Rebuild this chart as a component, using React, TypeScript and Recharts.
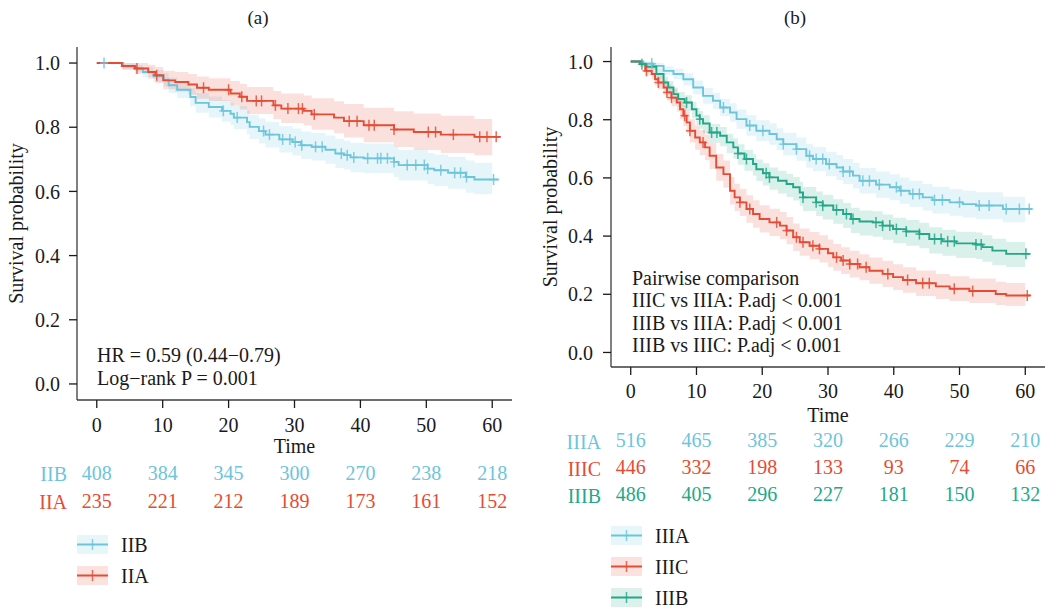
import React from "react"
import { ComposedChart, XAxis, YAxis, Line, Area, Legend, Customized } from "recharts"

const FONT = '"Liberation Serif", "Times New Roman", Times, serif'
const INK = "#1a1a1a"
const AXIS = "#3c3c3c"

const BLUE = "#6cc5db"
const RED = "#e64b35"
const GREEN = "#24a789"

const TIME_TICKS = [0, 10, 20, 30, 40, 50, 60]
const SURV_TICKS = [0, 0.2, 0.4, 0.6, 0.8, 1]
const X_DOMAIN: [number, number] = [-3, 63]
const Y_DOMAIN: [number, number] = [-0.05, 1.05]
const BAND_END = 60

// ---- panel (a) ----
const IIB_TIME = [0, 4, 6, 7, 8.6, 10.1, 10.9, 12.2, 14.2, 15, 17, 19, 20.3, 20.8, 22.8, 23.2, 24.6, 25.6, 27.7, 29.7, 31, 32.6, 34.7, 36.2, 37.5, 38.5, 40.5, 45.1, 45.8, 50.2, 51.2, 53.3, 56, 57.3, 61]
const IIB_SURV = [1, 0.99, 0.983, 0.972, 0.959, 0.948, 0.931, 0.917, 0.894, 0.876, 0.863, 0.851, 0.842, 0.83, 0.816, 0.801, 0.788, 0.777, 0.762, 0.754, 0.744, 0.739, 0.73, 0.718, 0.713, 0.706, 0.703, 0.692, 0.682, 0.671, 0.666, 0.658, 0.645, 0.637, 0.637]
const IIB_UPPER = [1, 0.999, 0.995, 0.988, 0.978, 0.969, 0.955, 0.943, 0.923, 0.907, 0.896, 0.885, 0.877, 0.866, 0.853, 0.839, 0.827, 0.817, 0.803, 0.796, 0.787, 0.782, 0.774, 0.763, 0.758, 0.752, 0.749, 0.739, 0.73, 0.72, 0.715, 0.708, 0.696, 0.689, 0.689]
const IIB_LOWER = [1, 0.98, 0.971, 0.956, 0.94, 0.927, 0.907, 0.891, 0.865, 0.845, 0.83, 0.817, 0.807, 0.794, 0.779, 0.763, 0.749, 0.737, 0.721, 0.712, 0.701, 0.696, 0.686, 0.673, 0.668, 0.66, 0.657, 0.645, 0.634, 0.622, 0.617, 0.608, 0.596, 0.591, 0.591]
const IIB_CENSOR = [1.1, 19.2, 21.3, 25.3, 26.2, 28.2, 29.3, 30.1, 31.1, 33.2, 34.2, 37.1, 38, 39, 41.1, 42.6, 43.1, 44.1, 45.1, 47.1, 48.4, 49.7, 50.2, 52.2, 54.3, 55.2, 56.1, 60.2]
const IIB_RISK = [408, 384, 345, 300, 270, 238, 218]

const IIA_TIME = [0, 3.8, 5.8, 7.8, 8.9, 10.1, 11.9, 13.9, 15.2, 17, 20.3, 21.7, 22.8, 26.8, 28, 31.4, 32.6, 36, 37.5, 40.5, 45.1, 48.1, 52.2, 57.3, 61.3]
const IIA_SURV = [1, 0.991, 0.983, 0.972, 0.962, 0.946, 0.941, 0.933, 0.923, 0.917, 0.905, 0.895, 0.882, 0.868, 0.858, 0.851, 0.84, 0.83, 0.819, 0.806, 0.793, 0.785, 0.777, 0.77, 0.77]
const IIA_UPPER = [1, 1, 1, 0.995, 0.988, 0.976, 0.972, 0.966, 0.958, 0.953, 0.944, 0.935, 0.925, 0.913, 0.905, 0.899, 0.89, 0.881, 0.872, 0.861, 0.85, 0.843, 0.836, 0.826, 0.826]
const IIA_LOWER = [1, 0.979, 0.967, 0.951, 0.938, 0.918, 0.911, 0.901, 0.889, 0.882, 0.867, 0.855, 0.841, 0.825, 0.813, 0.805, 0.792, 0.781, 0.768, 0.753, 0.738, 0.729, 0.72, 0.713, 0.713]
const IIA_CENSOR = [6.1, 9.1, 16.2, 20, 22, 24.2, 25, 27.1, 29, 30.6, 31.2, 33, 38.3, 39.5, 41.3, 42.1, 45.1, 50.3, 51.4, 54.1, 58.1, 59.2, 60.6]
const IIA_RISK = [235, 221, 212, 189, 173, 161, 152]

// ---- panel (b) ----
const IIIA_TIME = [0, 1.9, 3.4, 5, 6.5, 8, 9.5, 11, 12.5, 13.6, 15.1, 16.1, 17.6, 19.1, 21.1, 22.2, 23.2, 25.2, 26.7, 27.7, 29.7, 31.3, 32.3, 33.8, 34.8, 37.3, 39.4, 40.9, 42.4, 44.4, 45.9, 48.5, 50.5, 52.5, 56.6, 61]
const IIIA_SURV = [1, 0.993, 0.985, 0.968, 0.957, 0.939, 0.911, 0.882, 0.865, 0.842, 0.825, 0.802, 0.78, 0.762, 0.751, 0.733, 0.716, 0.699, 0.676, 0.665, 0.648, 0.636, 0.622, 0.608, 0.59, 0.577, 0.568, 0.556, 0.545, 0.533, 0.524, 0.516, 0.51, 0.505, 0.493, 0.493]
const IIIA_UPPER = [1, 1, 0.996, 0.983, 0.975, 0.96, 0.935, 0.909, 0.893, 0.872, 0.857, 0.835, 0.815, 0.798, 0.788, 0.771, 0.755, 0.739, 0.717, 0.706, 0.69, 0.679, 0.665, 0.652, 0.634, 0.622, 0.613, 0.601, 0.59, 0.579, 0.57, 0.562, 0.556, 0.551, 0.535, 0.535]
const IIIA_LOWER = [1, 0.986, 0.975, 0.953, 0.939, 0.918, 0.887, 0.855, 0.837, 0.812, 0.793, 0.769, 0.745, 0.726, 0.714, 0.695, 0.677, 0.659, 0.635, 0.624, 0.606, 0.593, 0.579, 0.564, 0.546, 0.532, 0.523, 0.511, 0.5, 0.488, 0.478, 0.47, 0.464, 0.459, 0.448, 0.448]
const IIIA_CENSOR = [3.2, 14.1, 18.1, 20.1, 23.2, 25.2, 27.2, 28.2, 29.2, 30.2, 32.3, 33.3, 35.3, 36.3, 37.8, 40.4, 41.1, 42.9, 43.9, 46.2, 47.4, 50, 53, 54.5, 57.1, 59.1, 60.6]
const IIIA_RISK = [516, 465, 385, 320, 266, 229, 210]

const IIIC_TIME = [0, 1.4, 2.2, 3.2, 3.7, 4.2, 5, 5.5, 6.2, 7, 7.5, 8, 8.5, 9, 9.8, 10.5, 11.3, 12, 13, 14.1, 15.1, 15.8, 16.6, 17.6, 18.6, 19.6, 21.1, 22.7, 23.7, 24.7, 25.7, 27.2, 28.7, 30, 30.8, 32, 33.3, 34.8, 36.3, 38.3, 39.9, 41.4, 43.4, 46.4, 48.5, 51.5, 55.5, 57.1, 60.8]
const IIIC_SURV = [1, 0.991, 0.968, 0.957, 0.939, 0.928, 0.911, 0.894, 0.876, 0.859, 0.836, 0.814, 0.791, 0.762, 0.739, 0.722, 0.705, 0.676, 0.636, 0.613, 0.556, 0.533, 0.516, 0.493, 0.476, 0.459, 0.447, 0.436, 0.419, 0.396, 0.379, 0.367, 0.356, 0.341, 0.327, 0.316, 0.304, 0.293, 0.281, 0.27, 0.259, 0.249, 0.238, 0.227, 0.219, 0.211, 0.201, 0.196, 0.196]
const IIIC_UPPER = [1, 1, 0.985, 0.976, 0.961, 0.952, 0.937, 0.922, 0.906, 0.891, 0.87, 0.85, 0.829, 0.802, 0.781, 0.765, 0.749, 0.721, 0.682, 0.66, 0.603, 0.58, 0.563, 0.54, 0.523, 0.506, 0.494, 0.483, 0.466, 0.443, 0.426, 0.414, 0.403, 0.388, 0.373, 0.362, 0.35, 0.338, 0.326, 0.315, 0.303, 0.293, 0.282, 0.27, 0.262, 0.254, 0.243, 0.239, 0.239]
const IIIC_LOWER = [1, 0.982, 0.952, 0.938, 0.917, 0.904, 0.885, 0.866, 0.846, 0.827, 0.802, 0.778, 0.753, 0.722, 0.697, 0.679, 0.661, 0.631, 0.59, 0.566, 0.509, 0.486, 0.469, 0.446, 0.429, 0.412, 0.4, 0.389, 0.372, 0.349, 0.332, 0.32, 0.309, 0.294, 0.281, 0.27, 0.258, 0.248, 0.236, 0.225, 0.215, 0.205, 0.194, 0.184, 0.177, 0.17, 0.163, 0.16, 0.16]
const IIIC_CENSOR = [2.4, 4.2, 5.5, 6.2, 8.2, 9, 11, 16.6, 18.1, 22.2, 23.7, 25.2, 26.2, 27.7, 28.7, 31.3, 32.3, 33.3, 34.5, 35.8, 39.1, 42.1, 44.4, 45.4, 49.2, 52, 60.3]
const IIIC_RISK = [446, 332, 198, 133, 93, 74, 66]

const IIIB_TIME = [0, 1.4, 2.4, 3.9, 5, 5.7, 6.5, 7.2, 8.2, 9.3, 10, 10.5, 11, 12, 13.6, 14.6, 15.6, 16.3, 17.3, 18.6, 19.1, 20.1, 21.1, 22.4, 23.7, 24.7, 25.7, 26.2, 28.2, 29.2, 30.8, 32.3, 33.5, 34.8, 36.8, 38.3, 39.9, 41.9, 43.9, 45.4, 47.4, 49.5, 52.5, 53.5, 55, 57.1, 60.8]
const IIIB_SURV = [1, 0.991, 0.982, 0.957, 0.928, 0.911, 0.888, 0.871, 0.859, 0.836, 0.814, 0.802, 0.787, 0.756, 0.745, 0.722, 0.705, 0.684, 0.665, 0.648, 0.63, 0.616, 0.602, 0.59, 0.579, 0.568, 0.55, 0.533, 0.516, 0.505, 0.49, 0.476, 0.459, 0.45, 0.447, 0.436, 0.424, 0.416, 0.407, 0.39, 0.382, 0.375, 0.371, 0.362, 0.35, 0.339, 0.339]
const IIIB_UPPER = [1, 1, 0.994, 0.974, 0.948, 0.933, 0.911, 0.895, 0.884, 0.862, 0.841, 0.83, 0.815, 0.785, 0.775, 0.752, 0.736, 0.716, 0.697, 0.681, 0.663, 0.65, 0.636, 0.625, 0.614, 0.603, 0.586, 0.569, 0.553, 0.542, 0.527, 0.514, 0.497, 0.488, 0.485, 0.474, 0.463, 0.455, 0.446, 0.43, 0.422, 0.415, 0.412, 0.403, 0.391, 0.38, 0.38]
const IIIB_LOWER = [1, 0.982, 0.97, 0.939, 0.906, 0.887, 0.862, 0.844, 0.83, 0.805, 0.782, 0.769, 0.753, 0.721, 0.709, 0.685, 0.667, 0.645, 0.625, 0.607, 0.589, 0.574, 0.559, 0.546, 0.534, 0.522, 0.504, 0.486, 0.469, 0.457, 0.442, 0.428, 0.411, 0.402, 0.398, 0.387, 0.375, 0.367, 0.358, 0.34, 0.332, 0.325, 0.321, 0.312, 0.3, 0.294, 0.294]
const IIIB_CENSOR = [1.7, 8.5, 10.5, 12.3, 13.1, 16.3, 17.6, 20.6, 21.1, 26.2, 28.2, 29.2, 31.3, 32.8, 33.8, 37.3, 38.3, 39.4, 40.4, 41.9, 43.9, 46.2, 47.2, 48.2, 49.2, 52.5, 53.3, 60.1]
const IIIB_RISK = [486, 405, 296, 227, 181, 150, 132]

const NOTES_A = ["HR = 0.59 (0.44\u22120.79)", "Log\u2212rank P = 0.001"]
const NOTES_B = ["Pairwise comparison", "IIIC vs IIIA: P.adj < 0.001", "IIIB vs IIIA: P.adj < 0.001", "IIIB vs IIIC: P.adj < 0.001"]

type Series = {
  name: string
  color: string
  times: number[]
  surv: number[]
  lower: number[]
  upper: number[]
  censor: number[]
  risk: number[]
}

const steps = (s: Series) => s.times.map((t, i) => ({ t, s: s.surv[i] }))
const band = (s: Series) =>
  s.times.map((t, i) => ({ t: i === s.times.length - 1 ? BAND_END : t, ci: [s.lower[i], s.upper[i]] }))
const censorPoints = (s: Series) =>
  s.censor.map((c) => {
    let i = 0
    while (i + 1 < s.times.length && s.times[i + 1] <= c) i++
    return { t: c, s: s.surv[i] }
  })
const riskRows = (s: Series) => TIME_TICKS.map((t, i) => ({ t, n: s.risk[i] }))

const plusDot = (color: string) => (props: any) => {
  const { cx, cy, index } = props
  if (cx == null || cy == null) return <g key={`c-${index}`} />
  return (
    <g key={`c-${index}`} stroke={color} strokeWidth={1.5} strokeOpacity={0.85}>
      <line x1={cx - 4} x2={cx + 4} y1={cy} y2={cy} />
      <line x1={cx} x2={cx} y1={cy - 5.5} y2={cy + 5.5} />
    </g>
  )
}

const SERIES_A: Series[] = [
  { name: "IIB", color: BLUE, times: IIB_TIME, surv: IIB_SURV, lower: IIB_LOWER, upper: IIB_UPPER, censor: IIB_CENSOR, risk: IIB_RISK },
  { name: "IIA", color: RED, times: IIA_TIME, surv: IIA_SURV, lower: IIA_LOWER, upper: IIA_UPPER, censor: IIA_CENSOR, risk: IIA_RISK },
]
const SERIES_B: Series[] = [
  { name: "IIIA", color: BLUE, times: IIIA_TIME, surv: IIIA_SURV, lower: IIIA_LOWER, upper: IIIA_UPPER, censor: IIIA_CENSOR, risk: IIIA_RISK },
  { name: "IIIC", color: RED, times: IIIC_TIME, surv: IIIC_SURV, lower: IIIC_LOWER, upper: IIIC_UPPER, censor: IIIC_CENSOR, risk: IIIC_RISK },
  { name: "IIIB", color: GREEN, times: IIIB_TIME, surv: IIIB_SURV, lower: IIIB_LOWER, upper: IIIB_UPPER, censor: IIIB_CENSOR, risk: IIIB_RISK },
]

const textStyle = { fontFamily: FONT, fontSize: 20 }

type PanelProps = {
  left: number
  width: number
  yAxisWidth: number
  marginRight: number
  mainAxisHeight: number
  rowHeight: number
  marginBottom: number
  xTickMargin: number
  yTickMargin: number
  timeOffset: number
  rowTickMargin: number
  yLabelX: number
  title: string
  titleX: number
  notes: string[]
  notesX: number
  notesY: number
  notesStep: number
  legendLeft: number
  legendTop: number
  series: Series[]
}

const KMPanel = (p: PanelProps) => {
  const renderLegend = () => (
    <div style={{ fontFamily: FONT, fontSize: 20, color: INK }}>
      {p.series.map((s) => (
        <div key={s.name} style={{ display: "flex", alignItems: "center", height: 31 }}>
          <svg width={31} height={19}>
            <rect x={0} y={0} width={31} height={19} fill={s.color} fillOpacity={0.16} />
            <line x1={0} x2={31} y1={9.5} y2={9.5} stroke={s.color} strokeWidth={2} />
            <line x1={15.5} x2={15.5} y1={4} y2={15} stroke={s.color} strokeWidth={1.5} strokeOpacity={0.8} />
          </svg>
          <span style={{ marginLeft: 13, lineHeight: "20px" }}>{s.name}</span>
        </div>
      ))}
    </div>
  )

  return (
    <div style={{ position: "absolute", left: p.left, top: 0 }}>
      <ComposedChart
        width={p.width}
        height={608}
        margin={{ top: 47, right: p.marginRight, bottom: p.marginBottom, left: 0 }}
      >
        <XAxis
          xAxisId="main"
          type="number"
          dataKey="t"
          domain={X_DOMAIN}
          allowDataOverflow
          ticks={TIME_TICKS}
          interval={0}
          height={p.mainAxisHeight}
          stroke={AXIS}
          strokeWidth={1.3}
          tickSize={8}
          tickMargin={p.xTickMargin}
          tick={{ fill: INK, ...textStyle }}
          tickLine={{ stroke: INK, strokeWidth: 1.3 }}
          label={{ value: "Time", position: "insideBottom", offset: p.timeOffset, fill: INK, ...textStyle }}
        />
        {p.series.map((s, k) => (
          <XAxis
            key={`row${k}`}
            xAxisId={`row${k}`}
            type="number"
            dataKey="t"
            domain={X_DOMAIN}
            allowDataOverflow
            ticks={TIME_TICKS}
            interval={0}
            height={p.rowHeight}
            axisLine={false}
            tickLine={false}
            tickSize={0}
            tickMargin={p.rowTickMargin}
            tickFormatter={(v: number) => String(s.risk[TIME_TICKS.indexOf(v)])}
            tick={{ fill: s.color, ...textStyle }}
            label={{ value: s.name, position: "left", offset: 10, fill: s.color, ...textStyle }}
          />
        ))}
        <YAxis
          type="number"
          domain={Y_DOMAIN}
          allowDataOverflow
          ticks={SURV_TICKS}
          interval={0}
          width={p.yAxisWidth}
          stroke={AXIS}
          strokeWidth={1.3}
          tickSize={8}
          tickMargin={p.yTickMargin}
          tickFormatter={(v: number) => v.toFixed(1)}
          tick={{ fill: INK, ...textStyle }}
          tickLine={{ stroke: INK, strokeWidth: 1.3 }}
          label={{
            content: ({ viewBox }: any) => {
              const cx = viewBox.x + p.yLabelX
              const cy = viewBox.y + viewBox.height / 2
              return (
                <text x={cx} y={cy} transform={`rotate(-90, ${cx}, ${cy})`} textAnchor="middle" fill={INK} {...textStyle}>
                  Survival probability
                </text>
              )
            },
          }}
        />

        {/* invisible carriers so each number-at-risk axis has data */}
        {p.series.map((s, k) => (
          <Line
            key={`risk-${s.name}`}
            xAxisId={`row${k}`}
            data={riskRows(s)}
            dataKey="n"
            stroke="none"
            dot={false}
            activeDot={false}
            isAnimationActive={false}
            legendType="none"
          />
        ))}
        {p.series.map((s) => (
          <Area
            key={`band-${s.name}`}
            xAxisId="main"
            data={band(s)}
            dataKey="ci"
            type="stepAfter"
            stroke="none"
            fill={s.color}
            fillOpacity={0.17}
            isAnimationActive={false}
            activeDot={false}
            legendType="none"
          />
        ))}
        {p.series.map((s) => (
          <Line
            key={`line-${s.name}`}
            xAxisId="main"
            data={steps(s)}
            dataKey="s"
            type="stepAfter"
            stroke={s.color}
            strokeWidth={1.9}
            dot={false}
            activeDot={false}
            isAnimationActive={false}
            name={s.name}
          />
        ))}
        {p.series.map((s) => (
          <Line
            key={`censor-${s.name}`}
            xAxisId="main"
            data={censorPoints(s)}
            dataKey="s"
            stroke="none"
            dot={plusDot(s.color)}
            activeDot={false}
            isAnimationActive={false}
            legendType="none"
          />
        ))}

        <Customized
          component={() => (
            <g fill={INK} {...textStyle}>
              <text x={p.titleX} y={24} textAnchor="middle" fontSize={19}>
                {p.title}
              </text>
              {p.notes.map((n, i) => (
                <text key={n} x={p.notesX} y={p.notesY + i * p.notesStep}>
                  {n}
                </text>
              ))}
            </g>
          )}
        />
        <Legend
          layout="vertical"
          align="center"
          verticalAlign="middle"
          content={renderLegend}
          wrapperStyle={{ left: p.legendLeft, top: p.legendTop, width: 160 }}
        />
      </ComposedChart>
    </div>
  )
}

export default function App() {
  return (
    <div style={{ position: "absolute", left: 0, top: 0, width: 1046, height: 608, background: "#fff", overflow: "hidden" }}>
      <KMPanel
        left={0}
        width={520}
        yAxisWidth={77}
        marginRight={8}
        mainAxisHeight={60}
        rowHeight={28}
        marginBottom={92}
        xTickMargin={10}
        yTickMargin={9}
        timeOffset={7}
        rowTickMargin={6}
        yLabelX={23}
        title="(a)"
        titleX={258}
        notes={NOTES_A}
        notesX={97}
        notesY={362}
        notesStep={22.5}
        legendLeft={77}
        legendTop={529}
        series={SERIES_A}
      />
      <KMPanel
        left={530}
        width={516}
        yAxisWidth={81}
        marginRight={1}
        mainAxisHeight={61}
        rowHeight={27}
        marginBottom={99}
        xTickMargin={9}
        yTickMargin={10}
        timeOffset={6}
        rowTickMargin={5}
        yLabelX={27}
        title="(b)"
        titleX={265}
        notes={NOTES_B}
        notesX={102}
        notesY={285}
        notesStep={22.4}
        legendLeft={81}
        legendTop={520}
        series={SERIES_B}
      />
    </div>
  )
}
